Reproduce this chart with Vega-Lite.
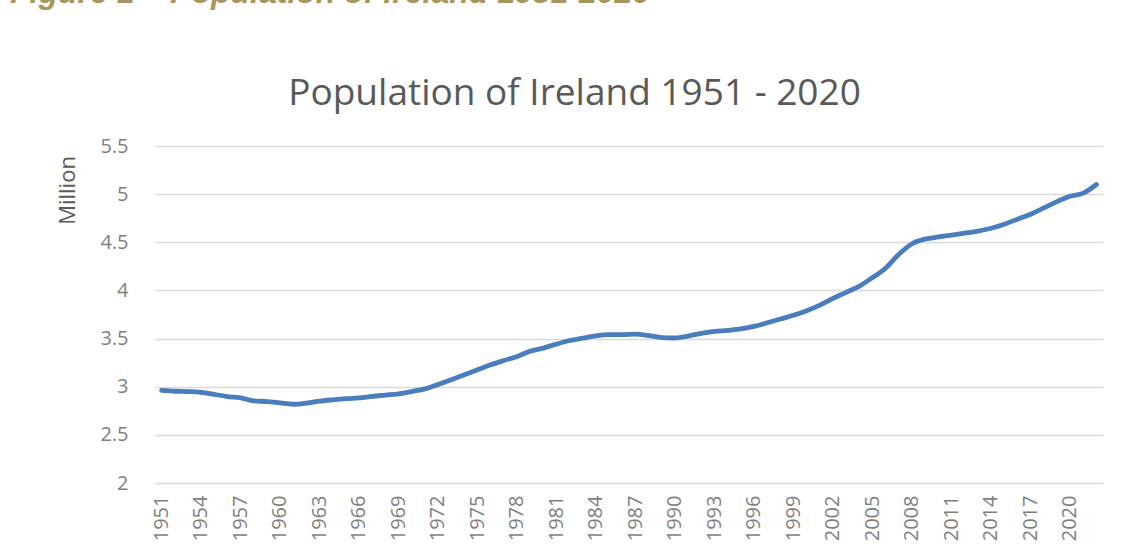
{
  "$schema": "https://vega.github.io/schema/vega-lite/v6.json",
  "width": 948,
  "height": 337,
  "autosize": {"type": "none"},
  "padding": {"left": 155, "top": 146, "right": 19, "bottom": 62},
  "background": "white",
  "title": {
    "text": "Figure 1 \u2013 Population of Ireland 1951-2020",
    "anchor": "start",
    "frame": "group",
    "dx": -145,
    "offset": 64,
    "font": "Liberation Sans",
    "fontSize": 32,
    "fontWeight": "bold",
    "fontStyle": "italic",
    "color": "#a8965e"
  },
  "data": {
    "values": [
      {"year": "1951", "pop": 2.961}, {"year": "1952", "pop": 2.953}, {"year": "1953", "pop": 2.949},
      {"year": "1954", "pop": 2.941}, {"year": "1955", "pop": 2.921}, {"year": "1956", "pop": 2.898},
      {"year": "1957", "pop": 2.885}, {"year": "1958", "pop": 2.853}, {"year": "1959", "pop": 2.846},
      {"year": "1960", "pop": 2.832}, {"year": "1961", "pop": 2.818}, {"year": "1962", "pop": 2.830},
      {"year": "1963", "pop": 2.850}, {"year": "1964", "pop": 2.864}, {"year": "1965", "pop": 2.876},
      {"year": "1966", "pop": 2.884}, {"year": "1967", "pop": 2.900}, {"year": "1968", "pop": 2.913},
      {"year": "1969", "pop": 2.926}, {"year": "1970", "pop": 2.950}, {"year": "1971", "pop": 2.978},
      {"year": "1972", "pop": 3.024}, {"year": "1973", "pop": 3.073}, {"year": "1974", "pop": 3.124},
      {"year": "1975", "pop": 3.177}, {"year": "1976", "pop": 3.228}, {"year": "1977", "pop": 3.272},
      {"year": "1978", "pop": 3.314}, {"year": "1979", "pop": 3.368}, {"year": "1980", "pop": 3.401},
      {"year": "1981", "pop": 3.443}, {"year": "1982", "pop": 3.480}, {"year": "1983", "pop": 3.505},
      {"year": "1984", "pop": 3.529}, {"year": "1985", "pop": 3.540}, {"year": "1986", "pop": 3.541},
      {"year": "1987", "pop": 3.547}, {"year": "1988", "pop": 3.531}, {"year": "1989", "pop": 3.510},
      {"year": "1990", "pop": 3.506}, {"year": "1991", "pop": 3.526}, {"year": "1992", "pop": 3.555},
      {"year": "1993", "pop": 3.574}, {"year": "1994", "pop": 3.586}, {"year": "1995", "pop": 3.601},
      {"year": "1996", "pop": 3.626}, {"year": "1997", "pop": 3.664}, {"year": "1998", "pop": 3.703},
      {"year": "1999", "pop": 3.742}, {"year": "2000", "pop": 3.790}, {"year": "2001", "pop": 3.847},
      {"year": "2002", "pop": 3.917}, {"year": "2003", "pop": 3.980}, {"year": "2004", "pop": 4.045},
      {"year": "2005", "pop": 4.134}, {"year": "2006", "pop": 4.233}, {"year": "2007", "pop": 4.376},
      {"year": "2008", "pop": 4.485}, {"year": "2009", "pop": 4.534}, {"year": "2010", "pop": 4.555},
      {"year": "2011", "pop": 4.574}, {"year": "2012", "pop": 4.594}, {"year": "2013", "pop": 4.615},
      {"year": "2014", "pop": 4.646}, {"year": "2015", "pop": 4.688}, {"year": "2016", "pop": 4.740},
      {"year": "2017", "pop": 4.792}, {"year": "2018", "pop": 4.857}, {"year": "2019", "pop": 4.922},
      {"year": "2020", "pop": 4.978}, {"year": "2021", "pop": 5.010}, {"year": "2022", "pop": 5.100}
    ]
  },
  "layer": [
    {
      "mark": {"type": "line", "color": "#4a7dbd", "strokeWidth": 4.8, "interpolate": "monotone", "strokeCap": "round"},
      "encoding": {
        "x": {
          "field": "year", "type": "ordinal",
          "scale": {"type": "band", "paddingInner": 0, "paddingOuter": 0},
          "axis": {
            "orient": "bottom",
            "title": null,
            "values": ["1951","1954","1957","1960","1963","1966","1969","1972","1975","1978","1981","1984","1987","1990","1993","1996","1999","2002","2005","2008","2011","2014","2017","2020"],
            "labelAngle": 270,
            "labelAlign": "right",
            "labelBaseline": "middle",
            "labelPadding": 12,
            "labelFont": "Open Sans",
            "labelFontSize": 20,
            "labelColor": "#7f7f7f",
            "ticks": false,
            "domain": false,
            "grid": false
          }
        },
        "y": {
          "field": "pop", "type": "quantitative",
          "scale": {"domain": [2, 5.5], "nice": false, "zero": false},
          "axis": {
            "title": "Million",
            "titleFont": "Open Sans",
            "titleFontSize": 22,
            "titleFontWeight": "normal",
            "titleColor": "#595959",
            "titleAngle": 270,
            "titleAlign": "center",
            "titleBaseline": "middle",
            "titleX": -88,
            "titleY": 44,
            "values": [2, 2.5, 3, 3.5, 4, 4.5, 5, 5.5],
            "format": "~g",
            "labelFont": "Open Sans",
            "labelFontSize": 20,
            "labelColor": "#7f7f7f",
            "labelPadding": 27,
            "ticks": false,
            "domain": false,
            "grid": true,
            "gridColor": "#d9d9d9",
            "gridWidth": 1.5
          }
        }
      }
    },
    {
      "mark": {"type": "point", "opacity": 0},
      "encoding": {
        "x": {
          "field": "year", "type": "ordinal",
          "axis": {
            "orient": "top",
            "title": "Population of Ireland 1951 - 2020",
            "titleFont": "Open Sans",
            "titleFontSize": 37,
            "titleFontWeight": "normal",
            "titleColor": "#595959",
            "titleX": 419,
            "titleY": -42,
            "titleAlign": "center",
            "titleBaseline": "alphabetic",
            "labels": false,
            "ticks": false,
            "domain": false,
            "grid": false
          }
        }
      }
    }
  ],
  "resolve": {"axis": {"x": "independent"}},
  "config": {
    "view": {"stroke": null}
  }
}
